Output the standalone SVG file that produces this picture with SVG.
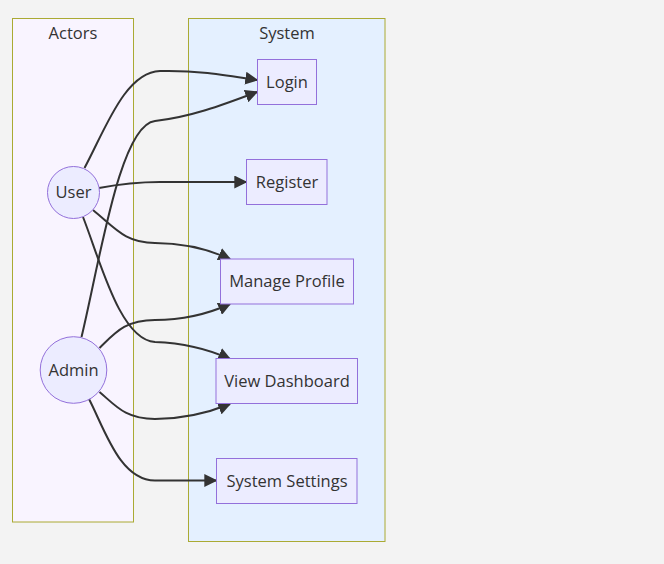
<svg xmlns="http://www.w3.org/2000/svg" width="664" height="564" viewBox="0 0 664 564">
<defs>
<style>
text{font-family:"Open Sans","Liberation Sans",sans-serif;font-size:16.5px;fill:#333;text-anchor:middle;dominant-baseline:central}
.cl{stroke:#AAAA33;stroke-width:1}
.nd{fill:#ECECFF;stroke:#9370DB;stroke-width:1}
.ed{fill:none;stroke:#333;stroke-width:2;marker-end:url(#arr)}
</style>
<marker id="arr" viewBox="0 0 10 10" refX="9" refY="5" markerUnits="userSpaceOnUse" markerWidth="13" markerHeight="13" orient="auto">
<path d="M0,0 L10,5 L0,10 z" fill="#333"/>
</marker>
</defs>
<rect width="664" height="564" fill="#F3F3F3"/>
<g id="actors">
<rect class="cl" x="12.5" y="18.5" width="121" height="503.5" fill="#F9F4FF"/>
<text x="73" y="32">Actors</text>
</g>
<g id="system">
<rect class="cl" x="188.5" y="18.5" width="196.5" height="523" fill="#E4F0FF"/>
<text x="287" y="32">System</text>
</g>
<g id="edges">
<path class="ed" d="M84.5,168 C105,130 125,72 160,71 C195,70 225,75 257,80"/>
<path class="ed" d="M81.5,337 C100,260 120,125 155,121 C190,117 220,106 257,92"/>
<path class="ed" d="M99,188 C120,184 135,182 160,182 L246,182"/>
<path class="ed" d="M93,210 C115,228 125,243 155,243 C185,243 210,250 230,259"/>
<path class="ed" d="M83,217 C100,260 120,340 155,342 C185,343 210,350 230,359"/>
<path class="ed" d="M99.5,348 C115,333 125,320 155,320 C185,320 210,313 230,304"/>
<path class="ed" d="M99.5,392 C115,405 125,419 155,419 C185,419 210,412 230,404"/>
<path class="ed" d="M89,399 C105,430 120,480.5 155,480.5 L216,480.5"/>
</g>
<g id="user">
<circle class="nd" cx="73.5" cy="192.5" r="26"/>
<text x="73.5" y="191.5">User</text>
</g>
<g id="admin">
<circle class="nd" cx="73.5" cy="370" r="33.3"/>
<text x="73.5" y="369">Admin</text>
</g>
<g id="login">
<rect class="nd" x="257.5" y="59.5" width="59" height="45"/>
<text x="287" y="81">Login</text>
</g>
<g id="register">
<rect class="nd" x="246.5" y="159.5" width="80.5" height="45"/>
<text x="287" y="181">Register</text>
</g>
<g id="profile">
<rect class="nd" x="220.5" y="259" width="133" height="45"/>
<text x="287" y="280.5">Manage Profile</text>
</g>
<g id="dashboard">
<rect class="nd" x="216" y="358.5" width="141.5" height="45"/>
<text x="287" y="380">View Dashboard</text>
</g>
<g id="settings">
<rect class="nd" x="216.5" y="458.5" width="140.5" height="45"/>
<text x="287" y="480">System Settings</text>
</g>
</svg>
